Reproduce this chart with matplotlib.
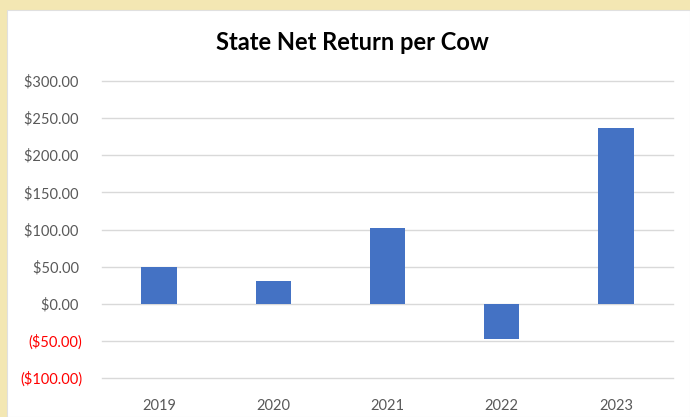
import matplotlib
matplotlib.use('Agg')
import matplotlib.pyplot as plt
from matplotlib.patches import Rectangle
import numpy as np

# data
years = ['2019', '2020', '2021', '2022', '2023']
net_return = [50, 31, 102, -48, 237]
y_ticks = [-100, -50, 0, 50, 100, 150, 200, 250, 300]

plt.rcParams['font.family'] = ['Lato', 'DejaVu Sans']


def money(v):
    if v < 0:
        return f'(${-v:,.2f})'
    return f'${v:,.2f} '


fig = plt.figure(figsize=(6.9, 4.17), dpi=100)
fig.patch.set_facecolor('#f3e7b3')

# white chart area on the beige slide background
W, H = 690, 417
fig.patches.append(Rectangle((7 / W, 0), 1 - 7 / W, 1 - 10 / H,
                             transform=fig.transFigure, facecolor='white',
                             edgecolor='#e0e0e0', linewidth=0.8, zorder=-10))

ax = fig.add_axes([102 / W, (H - 378) / H, (673 - 102) / W, (378 - 81) / H])
ax.set_facecolor('none')

x = np.arange(len(years))
ax.bar(x, net_return, width=0.31, color='#4472c4', zorder=3)

ax.set_xlim(-0.5, len(years) - 0.5)
ax.set_ylim(-100, 300)
ax.set_yticks(y_ticks)
ax.set_yticklabels([money(v) for v in y_ticks])
for lab, v in zip(ax.get_yticklabels(), y_ticks):
    lab.set_color('#ff0000' if v < 0 else '#595959')

ax.set_xticks(x)
ax.set_xticklabels(years)
ax.tick_params(axis='x', length=0, pad=15, labelsize=10.5, colors='#595959')
ax.tick_params(axis='y', length=0, pad=14, labelsize=10.5)

ax.grid(axis='y', color='#d9d9d9', linewidth=1.0, zorder=0)
for gl in ax.get_ygridlines():
    gl.set_clip_on(False)
for s in ax.spines.values():
    s.set_visible(False)

fig.text(352 / W, 1 - 42 / H, 'State Net Return per Cow', ha='center',
         va='center', fontsize=17, fontweight='bold', color='#000000')

fig.savefig('out.png', dpi=100, facecolor=fig.get_facecolor())
